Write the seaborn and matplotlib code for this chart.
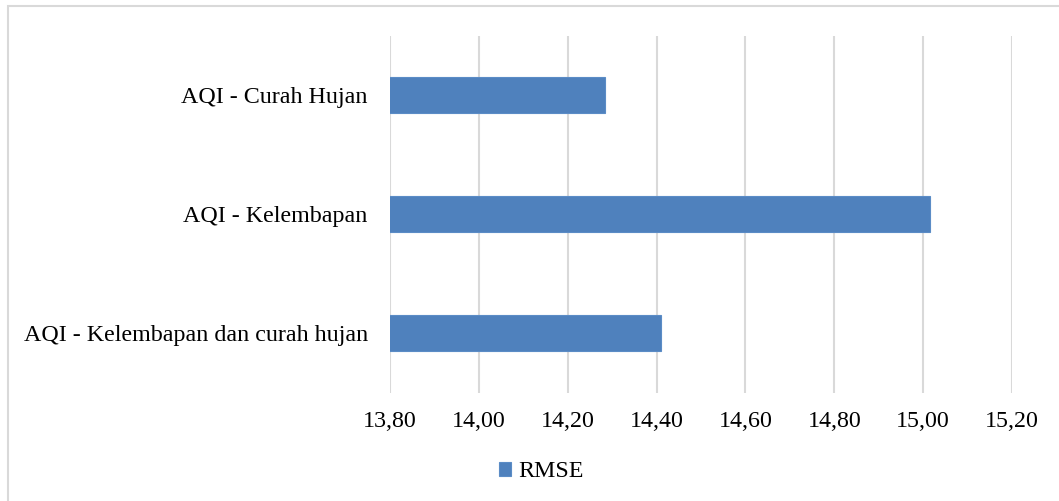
import matplotlib
matplotlib.use("Agg")
import matplotlib.pyplot as plt
import matplotlib.patches as mpatches
from matplotlib.ticker import FuncFormatter, MultipleLocator
import seaborn as sns
import pandas as pd

# Model error per input combination
categories = ["AQI - Curah Hujan", "AQI - Kelembapan", "AQI - Kelembapan dan curah hujan"]
rmse_values = [14.285, 15.016, 14.411]
series_name = "RMSE"

df = pd.DataFrame({"kombinasi": categories, "nilai": rmse_values, "seri": [series_name] * len(categories)})

sns.set_theme(style="white")
plt.rcParams["font.family"] = ["Liberation Serif", "DejaVu Serif"]

FS = 17.3
W, H = 1059, 501
fig = plt.figure(figsize=(W / 100, H / 100), dpi=100)
ax = fig.add_axes([390 / W, (H - 392.5) / H, (1012 - 390) / W, 357 / H])

sns.barplot(data=df, x="nilai", y="kombinasi", hue="seri", palette=["#4F81BD"],
            saturation=1, width=0.31, orient="h", ax=ax, edgecolor="#5B8CC6",
            linewidth=0.8, zorder=3)

ax.set_xlim(13.8, 15.2)
ax.xaxis.set_major_locator(MultipleLocator(0.2))
ax.xaxis.set_major_formatter(FuncFormatter(lambda v, _: f"{v:.2f}".replace(".", ",")))
ax.grid(axis="x", color="#D9D9D9", linewidth=1.5, zorder=0)
ax.grid(axis="y", visible=False)
for s in ax.spines.values():
    s.set_visible(False)
ax.set_xlabel("")
ax.set_ylabel("")
ax.tick_params(axis="y", length=0, pad=16, labelsize=FS, labelcolor="black")
ax.tick_params(axis="x", length=0, pad=13, labelsize=FS, labelcolor="black")

sns.move_legend(ax, "center", bbox_to_anchor=(541 / W, 1 - 471.7 / H),
                bbox_transform=fig.transFigure, frameon=False, title=None,
                fontsize=FS, handlelength=0.5, handleheight=0.5,
                handletextpad=0.3, borderpad=0)
for t in ax.get_legend().get_texts():
    t.set_color("black")

# Light chart-area frame
fig.patches.append(mpatches.Rectangle((8 / W, -0.01), 1.1, 1 - 6 / H + 0.01,
                                      transform=fig.transFigure, fill=False,
                                      edgecolor="#D9D9D9", linewidth=1.5))

fig.savefig("out.png", dpi=100)
